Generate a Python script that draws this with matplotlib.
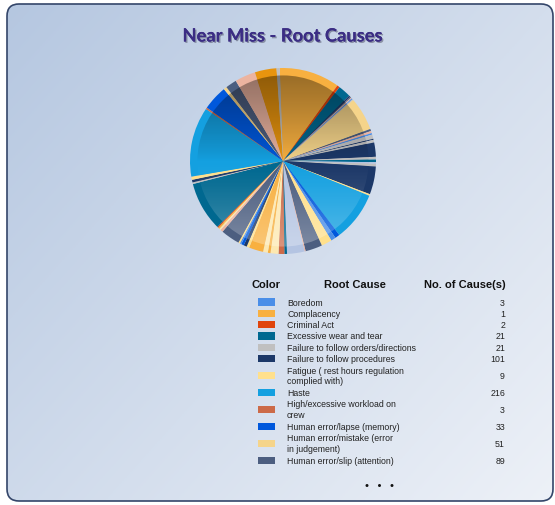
import numpy as np
import matplotlib
matplotlib.use("Agg")
import matplotlib.pyplot as plt
from matplotlib.patches import FancyBboxPatch, Circle
from matplotlib import patheffects

# legend table (first rows of the cause list)
causes = ["Boredom", "Complacency", "Criminal Act", "Excessive wear and tear",
          "Failure to follow orders/directions", "Failure to follow procedures",
          "Fatigue ( rest hours regulation\ncomplied with)", "Haste",
          "High/excessive workload on\ncrew", "Human error/lapse (memory)",
          "Human error/mistake (error\nin judgement)", "Human error/slip (attention)"]
cause_counts = [3, 1, 2, 21, 21, 101, 9, 216, 3, 33, 51, 89]

# colour cycle used by the chart
palette = ["#4a8ee8", "#f8b040", "#e0440c", "#006890", "#c0c0c0", "#1c3868",
           "#ffe08c", "#14a0e0", "#cc6a48", "#0058dc", "#f5d48a", "#4c5e80",
           "#ecb4a0", "#b4c4e2", "#e8940e", "#fde8b0"]

# pie slices, clockwise from the top
slice_counts = [114, 5, 24, 3, 2, 2, 2, 2, 63, 4, 4, 3, 8, 2, 5, 27, 5, 5, 3, 5,
                53, 3, 93, 9, 9, 20, 32, 2, 33, 5, 11, 15, 5, 9, 27, 5, 6, 5, 3, 3,
                36, 5, 3, 3, 2, 93, 3, 5, 6, 132, 3, 47, 6, 21, 39, 41, 6]
slice_color_idx = [1, 2, 3, 5, 11, 12, 0, 4, 10, 11, 12, 0, 4, 5, 4, 5, 4, 3, 13, 4,
                   5, 6, 7, 9, 0, 6, 11, 12, 13, 3, 8, 15, 1, 15, 1, 6, 5, 9, 0, 6,
                   11, 12, 15, 1, 2, 3, 4, 5, 6, 7, 8, 9, 10, 11, 12, 14, 4]

W, H = 555, 506
fig = plt.figure(figsize=(W / 100, H / 100), dpi=100)
fig.patch.set_facecolor("white")

bg = fig.add_axes([0, 0, 1, 1])
bg.set_xlim(0, W)
bg.set_ylim(H, 0)
bg.axis("off")

# card with diagonal gradient
card = FancyBboxPatch((7, 5), 546, 497, boxstyle="round,pad=0,rounding_size=12",
                      facecolor="none", edgecolor="#34466a", linewidth=1.2, zorder=3)
gx, gy = np.meshgrid(np.linspace(0, 1, 200), np.linspace(0, 1, 200))
t = np.clip(gx * 0.55 + gy * 0.45, 0, 1)
c0 = np.array([0.71, 0.78, 0.88])
c1 = np.array([0.93, 0.945, 0.97])
grad = c0 + (c1 - c0) * t[..., None]
img = bg.imshow(grad, extent=(7, 553, 502, 5), aspect="auto", zorder=1)
bg.add_patch(card)
img.set_clip_path(card)

bg.text(283, 37, "Near Miss - Root Causes", ha="center", va="center",
        fontsize=13.2, fontweight="bold", color="#3b2d84", family="Lato",
        path_effects=[patheffects.withSimplePatchShadow(offset=(1, -1), alpha=0.35),
                      patheffects.Normal()], zorder=4)

# pie
cx, cy, r = 283, 162, 93
ax = fig.add_axes([(cx - r) / W, 1 - (cy + r) / H, 2 * r / W, 2 * r / H])
ax.axis("off")
slice_colors = [palette[i] for i in slice_color_idx]
ax.pie(slice_counts, colors=slice_colors, startangle=92, counterclock=False,
       radius=1.0, wedgeprops=dict(linewidth=0))
inner = 0.92
ax.pie(slice_counts, colors=slice_colors, startangle=92, counterclock=False,
       radius=inner, wedgeprops=dict(linewidth=0))
ax.set_xlim(-1, 1)
ax.set_ylim(-1, 1)
ax.set_aspect("equal")

# shading inside the rim: dark at top, light at bottom
yy = np.linspace(1, -1, 256)[:, None] * np.ones((1, 256))
shade = np.zeros((256, 256, 4))
top = np.clip(yy, 0, 1)
bot = np.clip(-yy, 0, 1)
shade[..., :3] = np.where(yy[..., None] > 0, 0.0, 1.0)
shade[..., 3] = 0.38 * top ** 0.8 + 0.28 * bot ** 1.2
sh = ax.imshow(shade, extent=(-inner, inner, -inner, inner), zorder=5)
sh.set_clip_path(Circle((0, 0), inner, transform=ax.transData))

# legend table
narrow = ["Liberation Sans Narrow", "Liberation Sans", "DejaVu Sans"]
hy = 285
bg.text(266, hy, "Color", ha="center", va="center", fontsize=8, fontweight="bold",
        family=narrow, color="#111111", zorder=4)
bg.text(355, hy, "Root Cause", ha="center", va="center", fontsize=8, fontweight="bold",
        family=narrow, color="#111111", zorder=4)
bg.text(465, hy, "No. of Cause(s)", ha="center", va="center", fontsize=8,
        fontweight="bold", family=narrow, color="#111111", zorder=4)

line_h = 11.3
y = 303
for name, val, col in zip(causes, cause_counts, palette):
    n = name.count("\n") + 1
    yc = y + (n - 1) * line_h / 2
    bg.add_patch(plt.Rectangle((258, yc - 3.6), 17, 7.2, facecolor=col,
                               edgecolor="none", zorder=4))
    bg.text(287, yc, name, ha="left", va="center", fontsize=6.3, family=narrow,
            color="#222222", linespacing=1.25, zorder=4)
    bg.text(505, yc, str(val), ha="right", va="center", fontsize=6.3, family=narrow,
            color="#222222", zorder=4)
    y += n * line_h

bg.text(380, 486, "\u2022  \u2022  \u2022", ha="center", va="center", fontsize=7.5,
        color="#111111", zorder=4)

fig.savefig("out.png", dpi=100)
